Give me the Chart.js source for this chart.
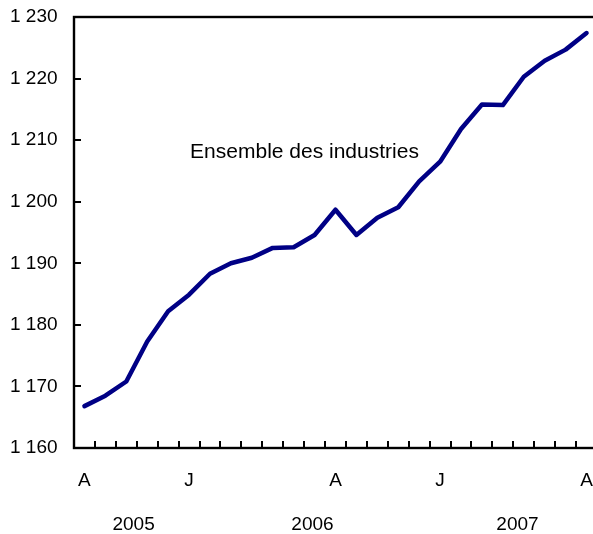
<!DOCTYPE html>
<html>
<head>
<meta charset="utf-8">
<script src="https://cdn.jsdelivr.net/npm/chart.js@4"></script>
<style>
  html, body { margin: 0; padding: 0; background: #fff; overflow: hidden; }
  #wrap { position: absolute; left: 0; top: 0; width: 600px; height: 534px; }
</style>
</head>
<body>
<div id="wrap"><canvas id="empChart" width="600" height="534"></canvas></div>
<script>
// Monthly, April 2005 to April 2007
const categories = [
    '2005-04', '2005-05', '2005-06', '2005-07', '2005-08', '2005-09', '2005-10', '2005-11', '2005-12',
    '2006-01', '2006-02', '2006-03', '2006-04', '2006-05', '2006-06', '2006-07', '2006-08', '2006-09',
    '2006-10', '2006-11', '2006-12', '2007-01', '2007-02', '2007-03', '2007-04'
];
const allIndustries = [
    1166.8, 1168.5, 1170.8, 1177.3, 1182.2, 1184.9, 1188.3, 1190.0, 1190.9,
    1192.5, 1192.6, 1194.6, 1198.7, 1194.6, 1197.4, 1199.1, 1203.3, 1206.5,
    1211.8, 1215.8, 1215.7, 1220.3, 1222.9, 1224.7, 1227.4
];
// letters printed under the axis (blank = no label)
const monthLetters = [
    'A', '', '', '', '', 'J', '', '', '',
    '', '', '', 'A', '', '', '', '', 'J',
    '', '', '', '', '', '', 'A'
];
const yearLabels = ['2005', '2006', '2007'];
const yearCenters = [2.35, 10.9, 20.7]; // in category units
const seriesLabel = 'Ensemble des industries';
const yMin = 1160, yMax = 1230, yStep = 10;

const FONT = 'Liberation Sans, Arial, Helvetica, sans-serif';

// "1230" -> "1 230"
const spaced = (v) => String(v).replace(/\B(?=(\d{3})+(?!\d))/g, ' ');

const frameAndExtras = {
    id: 'frameAndExtras',
    afterDraw(chart) {
        const { ctx, chartArea: a, scales: { x, y } } = chart;
        ctx.save();
        ctx.strokeStyle = '#000';
        ctx.lineWidth = 2.4;
        ctx.strokeRect(a.left, a.top, a.right - a.left, a.bottom - a.top);

        // inward ticks on the y axis
        ctx.lineWidth = 2;
        ctx.beginPath();
        y.ticks.forEach(t => {
            const py = Math.round(y.getPixelForValue(t.value));
            ctx.moveTo(a.left, py);
            ctx.lineTo(a.left + 7, py);
        });
        // inward ticks between months on the x axis
        for (let i = 0; i < categories.length - 1; i++) {
            const px = Math.round(x.getPixelForValue(i + 0.5));
            ctx.moveTo(px, a.bottom);
            ctx.lineTo(px, a.bottom - 7);
        }
        ctx.stroke();

        ctx.fillStyle = '#000';
        ctx.font = '19px ' + FONT;
        ctx.textAlign = 'center';
        ctx.textBaseline = 'middle';
        // month letters
        monthLetters.forEach((m, i) => {
            if (m) ctx.fillText(m, x.getPixelForValue(i), a.bottom + 33);
        });
        // years
        yearLabels.forEach((yr, i) => {
            ctx.fillText(yr, x.getPixelForValue(yearCenters[i]), a.bottom + 77);
        });

        // series name inside the plot
        ctx.font = '21px ' + FONT;
        ctx.textAlign = 'left';
        ctx.fillText(seriesLabel, x.getPixelForValue(5.05), y.getPixelForValue(1208));
        ctx.restore();
    }
};

const ctx = document.getElementById('empChart').getContext('2d');

new Chart(ctx, {
    type: 'line',
    data: {
        labels: categories,
        datasets: [{
            label: seriesLabel,
            data: allIndustries,
            borderColor: '#000085',
            borderWidth: 4.5,
            tension: 0,
            pointRadius: 0,
            borderJoinStyle: 'round',
            borderCapStyle: 'round'
        }]
    },
    options: {
        responsive: false,
        animation: false,
        layout: { padding: { top: 17, right: 3, left: 10, bottom: 0 } },
        plugins: {
            legend: { display: false },
            tooltip: { enabled: false }
        },
        scales: {
            x: {
                offset: true,
                grid: { display: false, drawTicks: false },
                border: { display: false },
                afterFit: (scale) => { scale.height = 86; },
                ticks: { display: false }
            },
            y: {
                min: yMin,
                max: yMax,
                grid: { display: false, drawTicks: false },
                border: { display: false },
                afterFit: (scale) => { scale.width = 64; },
                ticks: {
                    stepSize: yStep,
                    padding: 0,
                    crossAlign: 'far',
                    color: '#000',
                    font: { family: FONT, size: 19 },
                    callback: (v) => spaced(v)
                }
            }
        }
    },
    plugins: [frameAndExtras]
});
</script>
</body>
</html>
